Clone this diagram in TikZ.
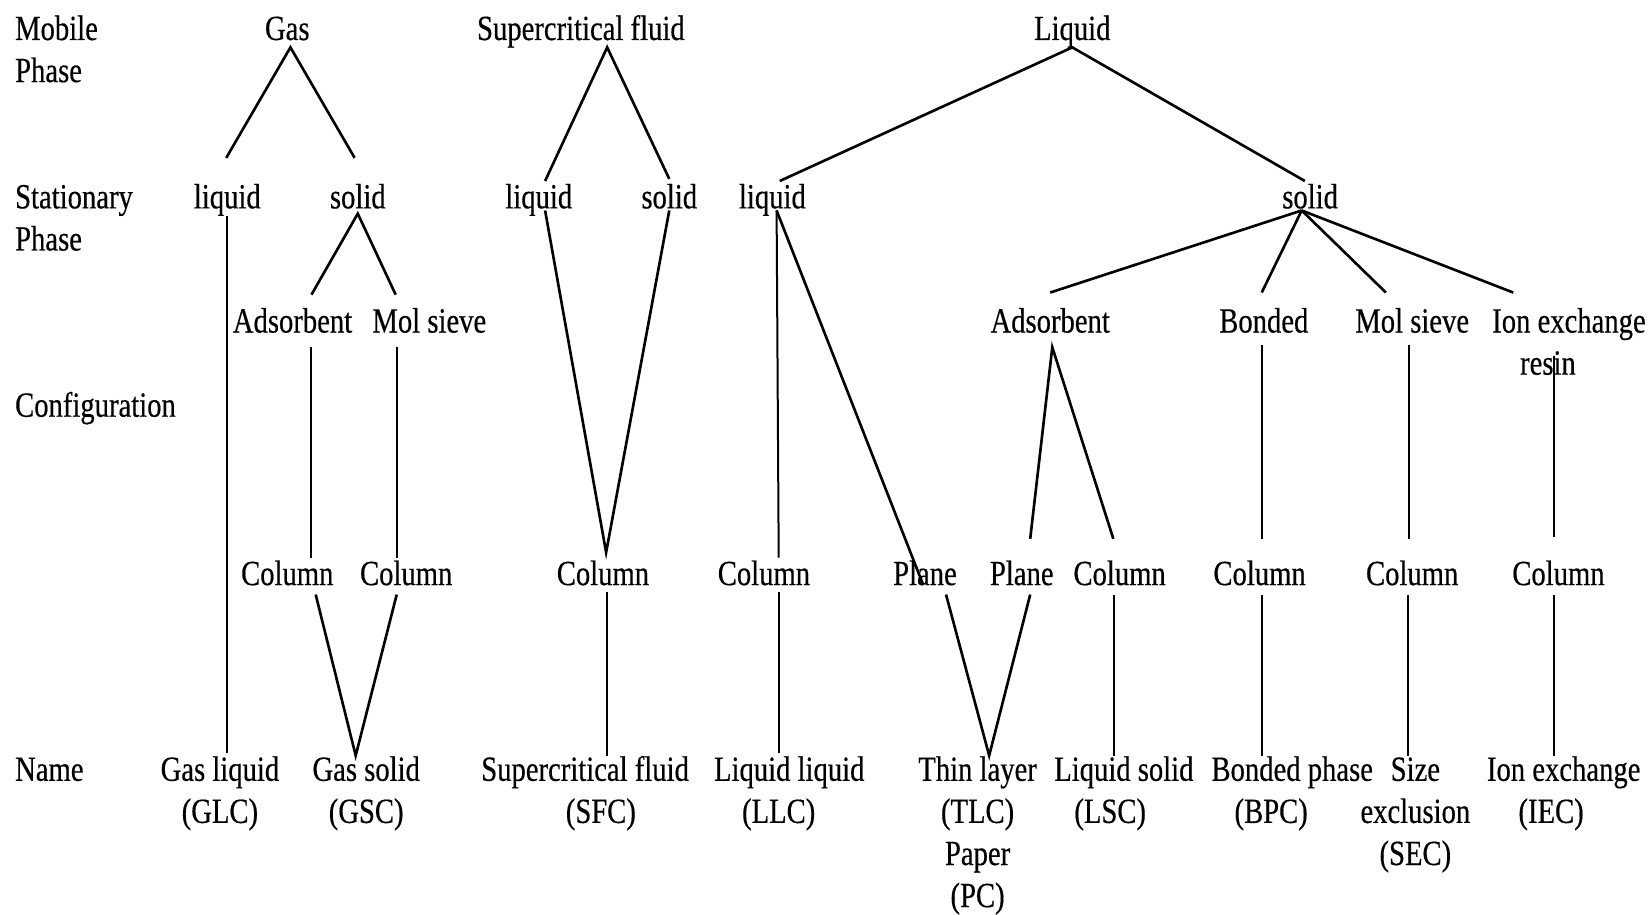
\documentclass[tikz,border=0pt]{standalone}
\usepackage{fontspec}
\setmainfont[FakeStretch=0.81,FakeBold=0.4]{Liberation Serif}
\begin{document}
\begin{tikzpicture}[x=0.5pt,y=-0.5pt,
  lbl/.style={inner sep=0pt,font=\fontsize{16.8}{20}\selectfont,align=center,anchor=base},
  rowlbl/.style={lbl,align=left,anchor=base west},
  thk/.style={line width=1.25pt},
  thn/.style={line width=0.95pt}]
\useasboundingbox (0,0) rectangle (1568,869);
% row labels (anchor = baseline of last line)
\node[rowlbl] (mob) at (14,78) {Mobile\\Phase};
\node[rowlbl] (stat) at (14,238) {Stationary\\Phase};
\node[rowlbl] (conf) at (14,396) {Configuration};
\node[rowlbl] (namel) at (14,742) {Name};
% mobile phase
\node[lbl] (gas) at (273,38) {Gas};
\node[lbl] (sf) at (552,38) {Supercritical fluid};
\node[lbl] (liqm) at (1019,38) {Liquid};
% stationary phase
\node[lbl] (gl) at (216,198) {liquid};
\node[lbl] (gs) at (340,198) {solid};
\node[lbl] (sl) at (512,198) {liquid};
\node[lbl] (ss) at (636,198) {solid};
\node[lbl] (ll) at (734,198) {liquid};
\node[lbl] (ls) at (1245,198) {solid};
% subtypes
\node[lbl] (ads1) at (278,316) {Adsorbent};
\node[lbl] (ms1) at (408,316) {Mol sieve};
\node[lbl] (ads2) at (998,316) {Adsorbent};
\node[lbl] (bond) at (1201,316) {Bonded};
\node[lbl] (ms2) at (1342,316) {Mol sieve};
\node[lbl] (ion) at (1491,356) {Ion exchange\\resin\hspace*{20pt}};
% configuration
\node[lbl] (col1) at (273,556) {Column};
\node[lbl] (col2) at (386,556) {Column};
\node[lbl] (col3) at (573,556) {Column};
\node[lbl] (col4) at (726,556) {Column};
\node[lbl] (pl1) at (879,556) {Plane};
\node[lbl] (pl2) at (971,556) {Plane};
\node[lbl] (col5) at (1064,556) {Column};
\node[lbl] (col6) at (1197,556) {Column};
\node[lbl] (col7) at (1342,556) {Column};
\node[lbl] (col8) at (1481,556) {Column};
% names
\node[lbl] (glc) at (209,782) {Gas liquid\\(GLC)};
\node[lbl] (gsc) at (348,782) {Gas solid\\(GSC)};
\node[lbl] (sfc) at (556,782) {Supercritical fluid\\\hspace*{15pt}(SFC)};
\node[lbl] (llc) at (750,782) {Liquid liquid\\(LLC)\hspace*{10pt}};
\node[lbl] (tlc) at (929,862) {Thin layer\\(TLC)\\Paper\\(PC)};
\node[lbl] (lsc) at (1068,782) {Liquid solid\\(LSC)\hspace*{13pt}};
\node[lbl] (bpc) at (1228,782) {Bonded phase\\(BPC)\hspace*{20pt}};
\node[lbl] (sec) at (1345,822) {Size\\exclusion\\(SEC)};
\node[lbl] (iec) at (1486,782) {Ion exchange\\(IEC)\hspace*{12pt}};
% ports
\coordinate (gas-b) at (276,45);
\coordinate (gl-t) at (215,150);
\coordinate (gs-t) at (337,150);
\coordinate (gl-b) at (216,205);
\coordinate (glc-t) at (216,716);
\coordinate (gs-b) at (340,203);
\coordinate (ads1-t) at (296,280);
\coordinate (ms1-t) at (376,280);
\coordinate (ads1-b) at (296,330);
\coordinate (col1-t) at (296,530);
\coordinate (ms1-b) at (377,330);
\coordinate (col2-t) at (377,530);
\coordinate (col1-b) at (300,565);
\coordinate (col2-b) at (377,565);
\coordinate (gsc-t) at (338,718);
\coordinate (sf-b) at (577,45);
\coordinate (sl-t) at (518,172);
\coordinate (ss-t) at (636,170);
\coordinate (sl-b) at (518,200);
\coordinate (ss-b) at (636,200);
\coordinate (col3-t) at (576,525);
\coordinate (col3-b) at (577,563);
\coordinate (sfc-t) at (577,718);
\coordinate (liqm-b) at (1019,45);
\coordinate (ll-t) at (741,172);
\coordinate (ls-t) at (1240,172);
\coordinate (ll-b) at (738,200);
\coordinate (col4-t) at (740,530);
\coordinate (pl1-t) at (877,555);
\coordinate (col4-b) at (740,563);
\coordinate (llc-t) at (740,716);
\coordinate (ls-b) at (1237,200);
\coordinate (ads2-t) at (998,278);
\coordinate (bond-t) at (1199,278);
\coordinate (ms2-t) at (1317,278);
\coordinate (ion-t) at (1438,278);
\coordinate (ads2-b) at (1000,330);
\coordinate (pl2-t) at (979,512);
\coordinate (col5-t) at (1058,512);
\coordinate (bond-b) at (1199,328);
\coordinate (col6-t) at (1199,512);
\coordinate (ms2-b) at (1339,328);
\coordinate (col7-t) at (1339,512);
\coordinate (ion-b) at (1477,338);
\coordinate (col8-t) at (1477,510);
\coordinate (pl1-b) at (899,565);
\coordinate (pl2-b) at (979,565);
\coordinate (tlc-t) at (940,718);
\coordinate (col5-b) at (1059,565);
\coordinate (lsc-t) at (1059,718);
\coordinate (col6-b) at (1199,565);
\coordinate (bpc-t) at (1199,718);
\coordinate (col7-b) at (1338,565);
\coordinate (sec-t) at (1338,718);
\coordinate (col8-b) at (1477,565);
\coordinate (iec-t) at (1477,718);
% connectors
\draw[thk] (gl-t) -- (gas-b) -- (gs-t);
\draw[thn] (gl-b) -- (glc-t);
\draw[thk] (ads1-t) -- (gs-b) -- (ms1-t);
\draw[thn] (ads1-b) -- (col1-t);
\draw[thn] (ms1-b) -- (col2-t);
\draw[thk] (col1-b) -- (gsc-t) -- (col2-b);
\draw[thk] (sl-t) -- (sf-b) -- (ss-t);
\draw[thk] (sl-b) -- (col3-t) -- (ss-b);
\draw[thn] (col3-b) -- (sfc-t);
\draw[thk] (ll-t) -- (liqm-b) -- (ls-t);
\draw[thn] (ll-b) -- (col4-t);
\draw[thk] (ll-b) -- (pl1-t);
\draw[thn] (col4-b) -- (llc-t);
\draw[thk] (ls-b) -- (ads2-t);
\draw[thk] (ls-b) -- (bond-t);
\draw[thk] (ls-b) -- (ms2-t);
\draw[thk] (ls-b) -- (ion-t);
\draw[thk] (pl2-t) -- (ads2-b) -- (col5-t);
\draw[thn] (bond-b) -- (col6-t);
\draw[thn] (ms2-b) -- (col7-t);
\draw[thn] (ion-b) -- (col8-t);
\draw[thk] (pl1-b) -- (tlc-t) -- (pl2-b);
\draw[thn] (col5-b) -- (lsc-t);
\draw[thn] (col6-b) -- (bpc-t);
\draw[thn] (col7-b) -- (sec-t);
\draw[thn] (col8-b) -- (iec-t);
\end{tikzpicture}
\end{document}
